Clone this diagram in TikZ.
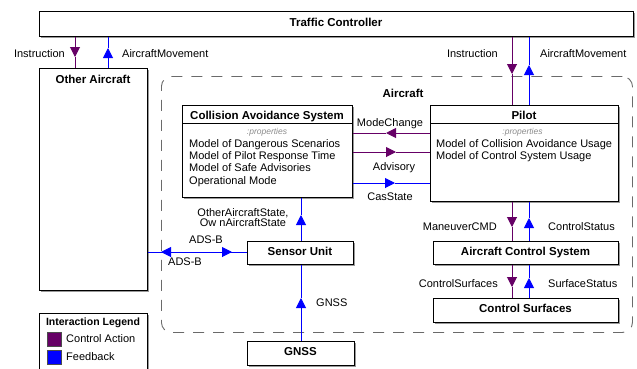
\documentclass[tikz,border=0pt]{standalone}
\usepackage{fontspec}
\setmainfont{Liberation Sans}
\usetikzlibrary{arrows.meta,shadows}
\definecolor{ctlpurple}{HTML}{660066}
\definecolor{fbblue}{HTML}{0000FF}
\definecolor{regiongray}{HTML}{6A6A6A}
\begin{document}
\begin{tikzpicture}[
  x=1pt, y=-1pt,
  box/.style={draw=black, line width=0.8pt, fill=white, anchor=north west, inner sep=0pt,
    drop shadow={shadow xshift=1.8pt, shadow yshift=-1.8pt, fill=black, opacity=0.4}},
  region/.style={draw=regiongray, line width=0.9pt, dash pattern=on 11pt off 9pt,
    rounded corners=10pt, anchor=north west, inner sep=0pt},
  title/.style={font=\fontsize{11.5}{13}\selectfont\bfseries, anchor=base, inner sep=0pt},
  lbl/.style={font=\fontsize{11}{12.2}\selectfont, inner sep=0pt},
  props/.style={font=\fontsize{8.5}{10}\selectfont\itshape, text=black!45, anchor=base, inner sep=0pt},
  ctl/.style={draw=ctlpurple, line width=1pt},
  fb/.style={draw=fbblue, line width=1pt},
  ctltip/.style={ctl, -{Triangle[length=10pt,width=10pt,fill=ctlpurple]}},
  fbtip/.style={fb, -{Triangle[length=10pt,width=10pt,fill=fbblue]}},
  swatch/.style={draw=black!70, line width=0.6pt, minimum width=14pt, minimum height=14pt,
    anchor=north west, inner sep=0pt}
]
\useasboundingbox (0,0) rectangle (637,368);
\clip (0,0) rectangle (637,368);

% aircraft boundary
\node[region, minimum width=471pt, minimum height=256pt] (acft) at (161,76) {};
\node[title] (acfttitle) at (403,97.3) {Aircraft};

% boxes
\node[box, minimum width=594pt, minimum height=25pt] (tc) at (39,11) {};
\node[box, minimum width=108pt, minimum height=222pt] (oa) at (39,68) {};
\node[box, minimum width=170pt, minimum height=92pt] (cas) at (182,105) {};
\node[box, minimum width=188pt, minimum height=96pt] (pilot) at (430,105) {};
\node[box, minimum width=185pt, minimum height=23pt] (acs) at (433,241) {};
\node[box, minimum width=185pt, minimum height=24pt] (cs) at (433,298) {};
\node[box, minimum width=106pt, minimum height=23pt] (su) at (247,241) {};
\node[box, minimum width=107pt, minimum height=24pt] (gnss) at (247,341) {};
\node[box, minimum width=108pt, minimum height=70pt] (legend) at (39,313) {};

% compartment dividers
\coordinate (ydiv) at (0,123);
\draw[line width=0.8pt] (cas.west |- ydiv) -- (cas.east |- ydiv);
\draw[line width=0.8pt] (pilot.west |- ydiv) -- (pilot.east |- ydiv);

% box titles
\node[title] (tctitle) at (336,26) {Traffic Controller};
\node[title] (oatitle) at (93,83.3) {Other Aircraft};
\node[title] (castitle) at (267,119) {Collision Avoidance System};
\node[title] (pilottitle) at (524,119) {Pilot};
\node[title] (sutitle) at (300,255.5) {Sensor Unit};
\node[title] (acstitle) at (525.5,255.5) {Aircraft Control System};
\node[title] (cstitle) at (525.5,312.5) {Control Surfaces};
\node[title] (gnsstitle) at (300.5,355) {GNSS};

% properties (multi-line nodes are anchored at the baseline of their last line)
\node[props] (casprops) at (267,134.5) {:properties};
\node[props] (pilotprops) at (522.5,134.5) {:properties};
\node[lbl, anchor=base west, align=left] (casbody) at (189,184)
  {Model of Dangerous Scenarios\\Model of Pilot Response Time\\Model of Safe Advisories\\Operational Mode};
\node[lbl, anchor=base west, align=left] (pilotbody) at (436,159.5)
  {Model of Collision Avoidance Usage\\Model of Control System Usage};

% connector columns and rows
\coordinate (xA) at (75,0);
\coordinate (xB) at (108,0);
\coordinate (xC) at (512,0);
\coordinate (xD) at (529,0);
\coordinate (xE) at (301,0);
\coordinate (yA) at (0,133);
\coordinate (yB) at (0,152);
\coordinate (yC) at (0,183);
\coordinate (yD) at (0,252);

% arrowhead points along the connectors
\coordinate (t1) at (75,57);
\coordinate (t2) at (108,48);
\coordinate (t3) at (512,74);
\coordinate (t4) at (529,65);
\coordinate (t5) at (512,227);
\coordinate (t6) at (529,218);
\coordinate (t7) at (512,287);
\coordinate (t8) at (529,278);
\coordinate (t9) at (386,133);
\coordinate (t10) at (396,152);
\coordinate (t11) at (395,183);
\coordinate (t12) at (301,215);
\coordinate (t13) at (301,298);
\coordinate (t14) at (161,252);
\coordinate (t15) at (232,252);

% connectors
\draw[ctltip] (tc.south -| xA) -- (t1);   \draw[ctl] (t1) -- (oa.north -| xA);
\draw[fbtip] (oa.north -| xB) -- (t2);    \draw[fb] (t2) -- (tc.south -| xB);
\draw[ctltip] (tc.south -| xC) -- (t3);   \draw[ctl] (t3) -- (pilot.north -| xC);
\draw[fbtip] (pilot.north -| xD) -- (t4); \draw[fb] (t4) -- (tc.south -| xD);
\draw[ctltip] (pilot.south -| xC) -- (t5); \draw[ctl] (t5) -- (acs.north -| xC);
\draw[fbtip] (acs.north -| xD) -- (t6);   \draw[fb] (t6) -- (pilot.south -| xD);
\draw[ctltip] (acs.south -| xC) -- (t7);  \draw[ctl] (t7) -- (cs.north -| xC);
\draw[fbtip] (cs.north -| xD) -- (t8);    \draw[fb] (t8) -- (acs.south -| xD);
\draw[ctltip] (pilot.west |- yA) -- (t9); \draw[ctl] (t9) -- (cas.east |- yA);
\draw[ctltip] (cas.east |- yB) -- (t10);  \draw[ctl] (t10) -- (pilot.west |- yB);
\draw[fbtip] (cas.east |- yC) -- (t11);   \draw[fb] (t11) -- (pilot.west |- yC);
\draw[fbtip] (su.north -| xE) -- (t12);   \draw[fb] (t12) -- (cas.south -| xE);
\draw[fbtip] (gnss.north -| xE) -- (t13); \draw[fb] (t13) -- (su.south -| xE);
\draw[fbtip] (t15) -- (t14);              \draw[fb] (t14) -- (oa.east |- yD);
\draw[fbtip] (t14) -- (t15);              \draw[fb] (t15) -- (su.west |- yD);

% connector labels
\node[lbl, anchor=base east] (l1) at (65,57.3) {Instruction};
\node[lbl, anchor=base west] (l2) at (122,57.3) {AircraftMovement};
\node[lbl, anchor=base east] (l3) at (498,57.3) {Instruction};
\node[lbl, anchor=base west] (l4) at (540,57.3) {AircraftMovement};
\node[lbl, anchor=base] (l5) at (390,126) {ModeChange};
\node[lbl, anchor=base] (l6) at (394,170) {Advisory};
\node[lbl, anchor=base] (l7) at (390,200) {CasState};
\node[lbl, anchor=base, align=center, font=\fontsize{11}{10.7}\selectfont] (l8) at (243,226.7)
  {OtherAircraftState,\\Ow nAircraftState};
\node[lbl, anchor=base] (l9) at (206,243.5) {ADS-B};
\node[lbl, anchor=base] (l10) at (185,265) {ADS-B};
\node[lbl, anchor=base east] (l11) at (497,230) {ManeuverCMD};
\node[lbl, anchor=base west] (l12) at (548,230) {ControlStatus};
\node[lbl, anchor=base east] (l13) at (498,287) {ControlSurfaces};
\node[lbl, anchor=base west] (l14) at (548,287) {SurfaceStatus};
\node[lbl, anchor=base west] (l15) at (316,306) {GNSS};

% legend
\node[title, font=\fontsize{10.5}{12}\selectfont\bfseries] (legtitle) at (93,325.5) {Interaction Legend};
\node[swatch, fill=ctlpurple] (swctl) at (47,332) {};
\node[swatch, fill=fbblue] (swfb) at (47,350) {};
\node[lbl, anchor=base west] (legctl) at (66,342.7) {Control Action};
\node[lbl, anchor=base west] (legfb) at (66,360) {Feedback};
\end{tikzpicture}
\end{document}
